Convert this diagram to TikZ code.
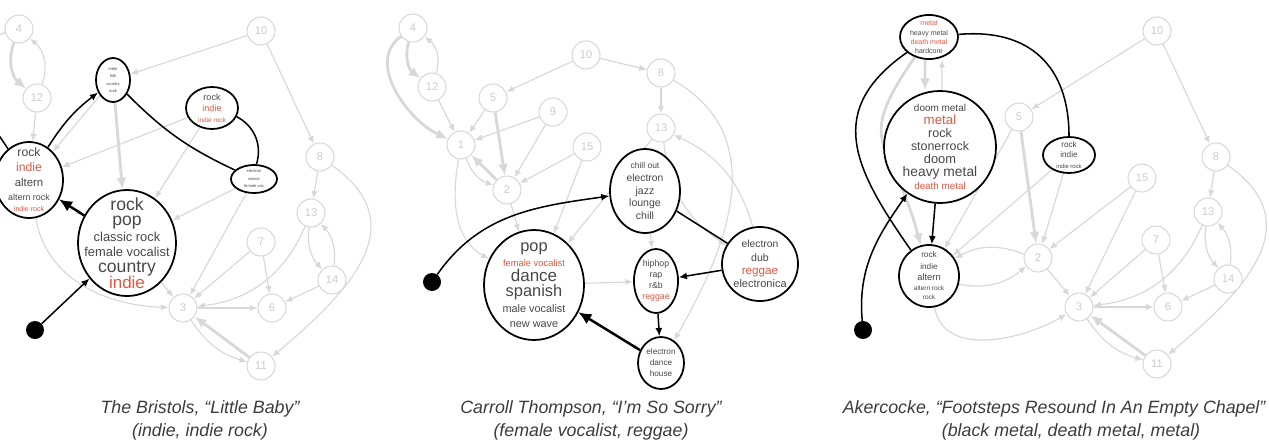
\documentclass[tikz,border=0pt]{standalone}
\usepackage{fontspec}
\setmainfont{Liberation Sans}
\usepackage{tikz}
\usetikzlibrary{arrows.meta,shapes.geometric,backgrounds}
\definecolor{edgegray}{RGB}{216,216,216}
\definecolor{numgray}{RGB}{205,205,205}
\definecolor{taggray}{RGB}{72,72,72}
\definecolor{walkred}{RGB}{224,88,66}
\definecolor{capgray}{RGB}{60,60,60}
\newcommand{\tagsz}[1]{\fontsize{#1}{#1}\selectfont}
\newcommand{\redsz}[1]{\fontsize{#1}{#1}\selectfont\color{walkred}}
\tikzset{
    walknum/.style={circle, draw=edgegray, fill=white, line width=0.9pt, minimum size=0.84cm, inner sep=0pt, text=numgray, font=\fontsize{9.5}{10}\selectfont},
    walktag/.style={ellipse, draw, fill=white, line width=1.5pt, inner sep=0pt},
    walktext/.style={align=center, text=taggray, inner sep=0pt},
    walkdot/.style={circle, fill=black, minimum size=0.54cm, inner sep=0pt},
    walkedge/.style={-{Latex[length=6.5pt,width=5.5pt]}, draw=edgegray, line width=1pt},
    walkthick/.style={-{Latex[length=10pt,width=8.5pt]}, draw=edgegray, line width=2.4pt},
    walkpath/.style={-{Latex[length=7pt,width=6pt]}, line width=1.3pt},
    walkpathbig/.style={-{Latex[length=11pt,width=10pt]}, line width=2.1pt},
    walkline/.style={line width=1.3pt},
    walkcap/.style={align=center, text=capgray, font=\fontsize{15.2}{19.6}\selectfont\itshape}
}
\begin{document}
\begin{tikzpicture}[x=0.03cm, y=0.03cm]
    \useasboundingbox (0,0) rectangle (1269,-447);

    % The Bristols
    \node[walknum] (a4) at (19,-29) {4};
    \node[walknum] (a12) at (37,-98) {12};
    \node[walknum] (a10) at (261,-31) {10};
    \node[walknum] (a8) at (320,-157) {8};
    \node[walknum] (a13) at (311,-213) {13};
    \node[walknum] (a7) at (261,-242) {7};
    \node[walknum] (a14) at (332,-280) {14};
    \node[walknum] (a3) at (183,-308) {3};
    \node[walknum] (a6) at (272,-308) {6};
    \node[walknum] (a11) at (261,-366) {11};
    \node[walktag, minimum width=1.02cm, minimum height=1.32cm, label={[walktext, font=\fontsize{3.5}{6.4}\selectfont]center:indie\\folk\\country\\rock}] (afolk) at (113,-80) {};
    \node[walktag, minimum width=1.56cm, minimum height=1.26cm, label={[walktext, font=\fontsize{7.7}{9.4}\selectfont]center:rock\\\redsz{7.7}indie\\\redsz{5.5}indie rock}] (aind) at (212,-108) {};
    \node[walktag, minimum width=2.04cm, minimum height=2.28cm, label={[walktext, font=\fontsize{10.4}{12.6}\selectfont]center:rock\\\redsz{10.4}indie\\\tagsz{9.7}altern\\[-1pt]\tagsz{7.6}altern rock\\[-2.5pt]\redsz{6}indie rock}] (aalt) at (29,-180) {};
    \node[walktag, minimum width=2.94cm, minimum height=3.18cm, label={[walktext, font=\fontsize{15}{13.2}\selectfont]center:rock\\pop\\\tagsz{11}classic rock\\\tagsz{11}female vocalist\\country\\[-1pt]\redsz{14.5}indie}] (abig) at (127,-243) {};
    \node[walktag, minimum width=1.38cm, minimum height=0.84cm, label={[walktext, font=\fontsize{3.5}{6.4}\selectfont]center:electron\\dance\\female voc}] (aele) at (254,-179) {};
    \node[walkdot] (adot) at (35,-330) {};
    \coordinate (aout) at (-20,-85);
    \coordinate (aoutb) at (-10,-122);

    % Carroll Thompson
    \node[walknum] (b4) at (413,-28) {4};
    \node[walknum] (b12) at (432,-87) {12};
    \node[walknum] (b10) at (586,-55) {10};
    \node[walknum] (b8) at (661,-73) {8};
    \node[walknum] (b5) at (493,-98) {5};
    \node[walknum] (b9) at (553,-112) {9};
    \node[walknum] (b1) at (461,-145) {1};
    \node[walknum] (b15) at (587,-147) {15};
    \node[walknum] (b13) at (661,-128) {13};
    \node[walknum] (b2) at (507,-190) {2};
    \node[walktag, minimum width=2.1cm, minimum height=2.52cm, label={[walktext, font=\fontsize{9}{11}\selectfont]center:\tagsz{7.2}chill out\\\tagsz{8.8}electron\\jazz\\lounge\\chill}] (bchill) at (645,-191) {};
    \node[walktag, minimum width=3cm, minimum height=3.3cm, label={[walktext, font=\fontsize{14}{13}\selectfont]center:pop\\\redsz{8}female vocalist\\\tagsz{14.5}dance\\spanish\\\tagsz{9.3}male vocalist\\\tagsz{9.3}new wave}] (bpop) at (534,-285) {};
    \node[walktag, minimum width=1.32cm, minimum height=1.92cm, label={[walktext, font=\fontsize{7.5}{9.4}\selectfont]center:hiphop\\rap\\r\&b\\\redsz{7.5}reggae}] (bhip) at (656,-281) {};
    \node[walktag, minimum width=2.28cm, minimum height=2.22cm, label={[walktext, font=\fontsize{9}{11.4}\selectfont]center:\tagsz{8.8}electron\\dub\\\redsz{10}reggae\\\tagsz{9.4}electronica}] (bdub) at (760,-264) {};
    \node[walktag, minimum width=1.38cm, minimum height=1.56cm, label={[walktext, font=\fontsize{7}{9.4}\selectfont]center:electron\\dance\\house}] (bhouse) at (661,-363) {};
    \node[walkdot] (bdot) at (432,-282) {};

    % Akercocke
    \node[walknum] (c10) at (1157,-31) {10};
    \node[walknum] (c5) at (1019,-117) {5};
    \node[walknum] (c8) at (1216,-157) {8};
    \node[walknum] (c15) at (1142,-178) {15};
    \node[walknum] (c13) at (1208,-212) {13};
    \node[walknum] (c2) at (1038,-258) {2};
    \node[walknum] (c7) at (1156,-240) {7};
    \node[walknum] (c14) at (1228,-279) {14};
    \node[walknum] (c3) at (1079,-307) {3};
    \node[walknum] (c6) at (1168,-307) {6};
    \node[walknum] (c11) at (1157,-364) {11};
    \node[walktag, minimum width=1.74cm, minimum height=1.32cm, label={[walktext, font=\fontsize{6}{7.7}\selectfont]center:\redsz{6}metal\\heavy metal\\\redsz{6}death metal\\hardcore}] (cmetal) at (929,-37) {};
    \node[walktag, minimum width=3.36cm, minimum height=3.36cm, label={[walktext, font=\fontsize{11}{11.2}\selectfont]center:\tagsz{8.5}doom metal\\\redsz{11.4}metal\\\tagsz{10.7}rock\\\tagsz{10.6}stonerrock\\doom\\\tagsz{11.8}heavy metal\\\redsz{8.4}death metal}] (cdoom) at (940,-147) {};
    \node[walktag, minimum width=1.8cm, minimum height=1.86cm, label={[walktext, font=\fontsize{7}{9.6}\selectfont]center:rock\\indie\\\tagsz{8}altern\\[-1pt]\tagsz{5.5}altern rock\\[-1.5pt]\tagsz{5.5}rock}] (calt) at (929,-276) {};
    \node[walktag, minimum width=1.56cm, minimum height=1.08cm, label={[walktext, font=\fontsize{7}{9}\selectfont]center:rock\\indie\\\tagsz{5}indie rock}] (cind) at (1069,-155) {};
    \node[walkdot] (cdot) at (863,-330) {};

    \begin{scope}[on background layer]
        \foreach \a/\b in {a12/aalt,a10/afolk,a10/a8,afolk/aalt,aind/aalt,aind/abig,aele/abig,aele/a3,aalt/abig,abig/a3,a7/a3,a7/a6,a3/a6,a14/a6,a8/a13,
                           b12/b1,b10/b5,b10/b8,b5/b1,b9/b1,b9/b2,b15/b2,b2/bpop,b15/bpop,b13/bpop,bchill/bhip,b8/b13,bpop/bhip,bpop/bhouse,
                           c10/c5,c10/c8,c5/calt,cind/c2,cind/calt,c15/c2,c15/c3,c2/c3,c7/c3,c7/c6,c3/c6,c14/c6,c8/c13}
            \draw[walkedge] (\a) -- (\b);
        \foreach \a/\b in {afolk/abig,a11/a3,b5/b2,b2/b1,c5/c2,c11/c3}
            \draw[walkthick] (\a) -- (\b);
        \foreach \a/\b in {a13/a14,a14/a13,b13/bdub,bdub/b13,c13/c14,c14/c13,c2/calt,calt/c2}
            \draw[walkedge] (\a) to[bend right=25] (\b);
        \draw[walkthick] (a4) to[bend right=35] (a12);
        \draw[walkedge] (a12) to[bend right=35] (a4);
        \draw[walkedge] (a4) to[out=195, in=75] (aout);
        \draw[walkedge] (aalt) to[out=-80, in=178] (a3);
        \draw[walkedge] (a13) to[bend left=30] (a3);
        \draw[walkedge] (a3) to[bend right=20] (a11);
        \draw[walkedge] (a8) to[out=-35, in=40, looseness=1.3] (a11);
        \draw[walkthick] (b4) to[bend right=35] (b12);
        \draw[walkedge] (b12) to[bend right=35] (b4);
        \draw[walkthick] (b4) to[out=215, in=155] (b1);
        \draw[walkedge] (b1) to[bend right=25] (b2);
        \draw[walkedge] (b1) to[out=-100, in=150] (bpop);
        \draw[walkedge] (b8) to[out=-30, in=60, looseness=1.1] (bhouse);
        \draw[walkthick] ([xshift=-0.12cm]cmetal.south) -- ([xshift=-0.45cm]cdoom.north);
        \draw[walkedge] ([xshift=0.06cm]cdoom.north) -- ([xshift=0.39cm]cmetal.south);
        \draw[walkthick] (cmetal) to[out=-125, in=105, looseness=1.5] (calt);
        \draw[walkedge] (calt) to[out=-80, in=-150] (c3);
        \draw[walkedge] (c13) to[bend left=30] (c3);
        \draw[walkedge] (c3) to[bend right=20] (c11);
        \draw[walkedge] (c8) to[out=-35, in=40, looseness=1.3] (c11);
    \end{scope}

    % walks
    \draw[walkline] (aoutb) -- (aalt);
    \draw[walkpath] (adot) -- (abig);
    \draw[walkpathbig] (abig) -- (aalt);
    \draw[walkpath] (aalt) to[bend left=10] (afolk);
    \draw[walkline] (afolk) to[bend right=10] (aele);
    \draw[walkline] (aele) to[bend right=40] (aind);
    \draw[walkpath] (bdot) to[out=55, in=188] (bchill);
    \draw[walkline] (bchill) -- (bdub);
    \draw[walkpath] (bdub) -- (bhip);
    \draw[walkpath] (bhip) -- (bhouse);
    \draw[walkpathbig] (bhouse) -- (bpop);
    \draw[walkpath] (cdot) to[out=95, in=235] (cdoom);
    \draw[walkline] (cmetal) to[out=5, in=90, looseness=1.2] (cind);
    \draw[walkline] (cmetal) to[out=-145, in=125, looseness=1.3] (calt);
    \draw[walkpath] (cdoom) -- (calt);

    \node[walkcap] (capa) at (200,-420) {The Bristols, “Little Baby”\\(indie, indie rock)};
    \node[walkcap] (capb) at (591,-420) {Carroll Thompson, “I’m So Sorry”\\(female vocalist, reggae)};
    \node[walkcap] (capc) at (1071,-420) {Akercocke, “Footsteps Resound In An Empty Chapel”\hspace*{1.9em}\\(black metal, death metal, metal)};
\end{tikzpicture}
\end{document}
